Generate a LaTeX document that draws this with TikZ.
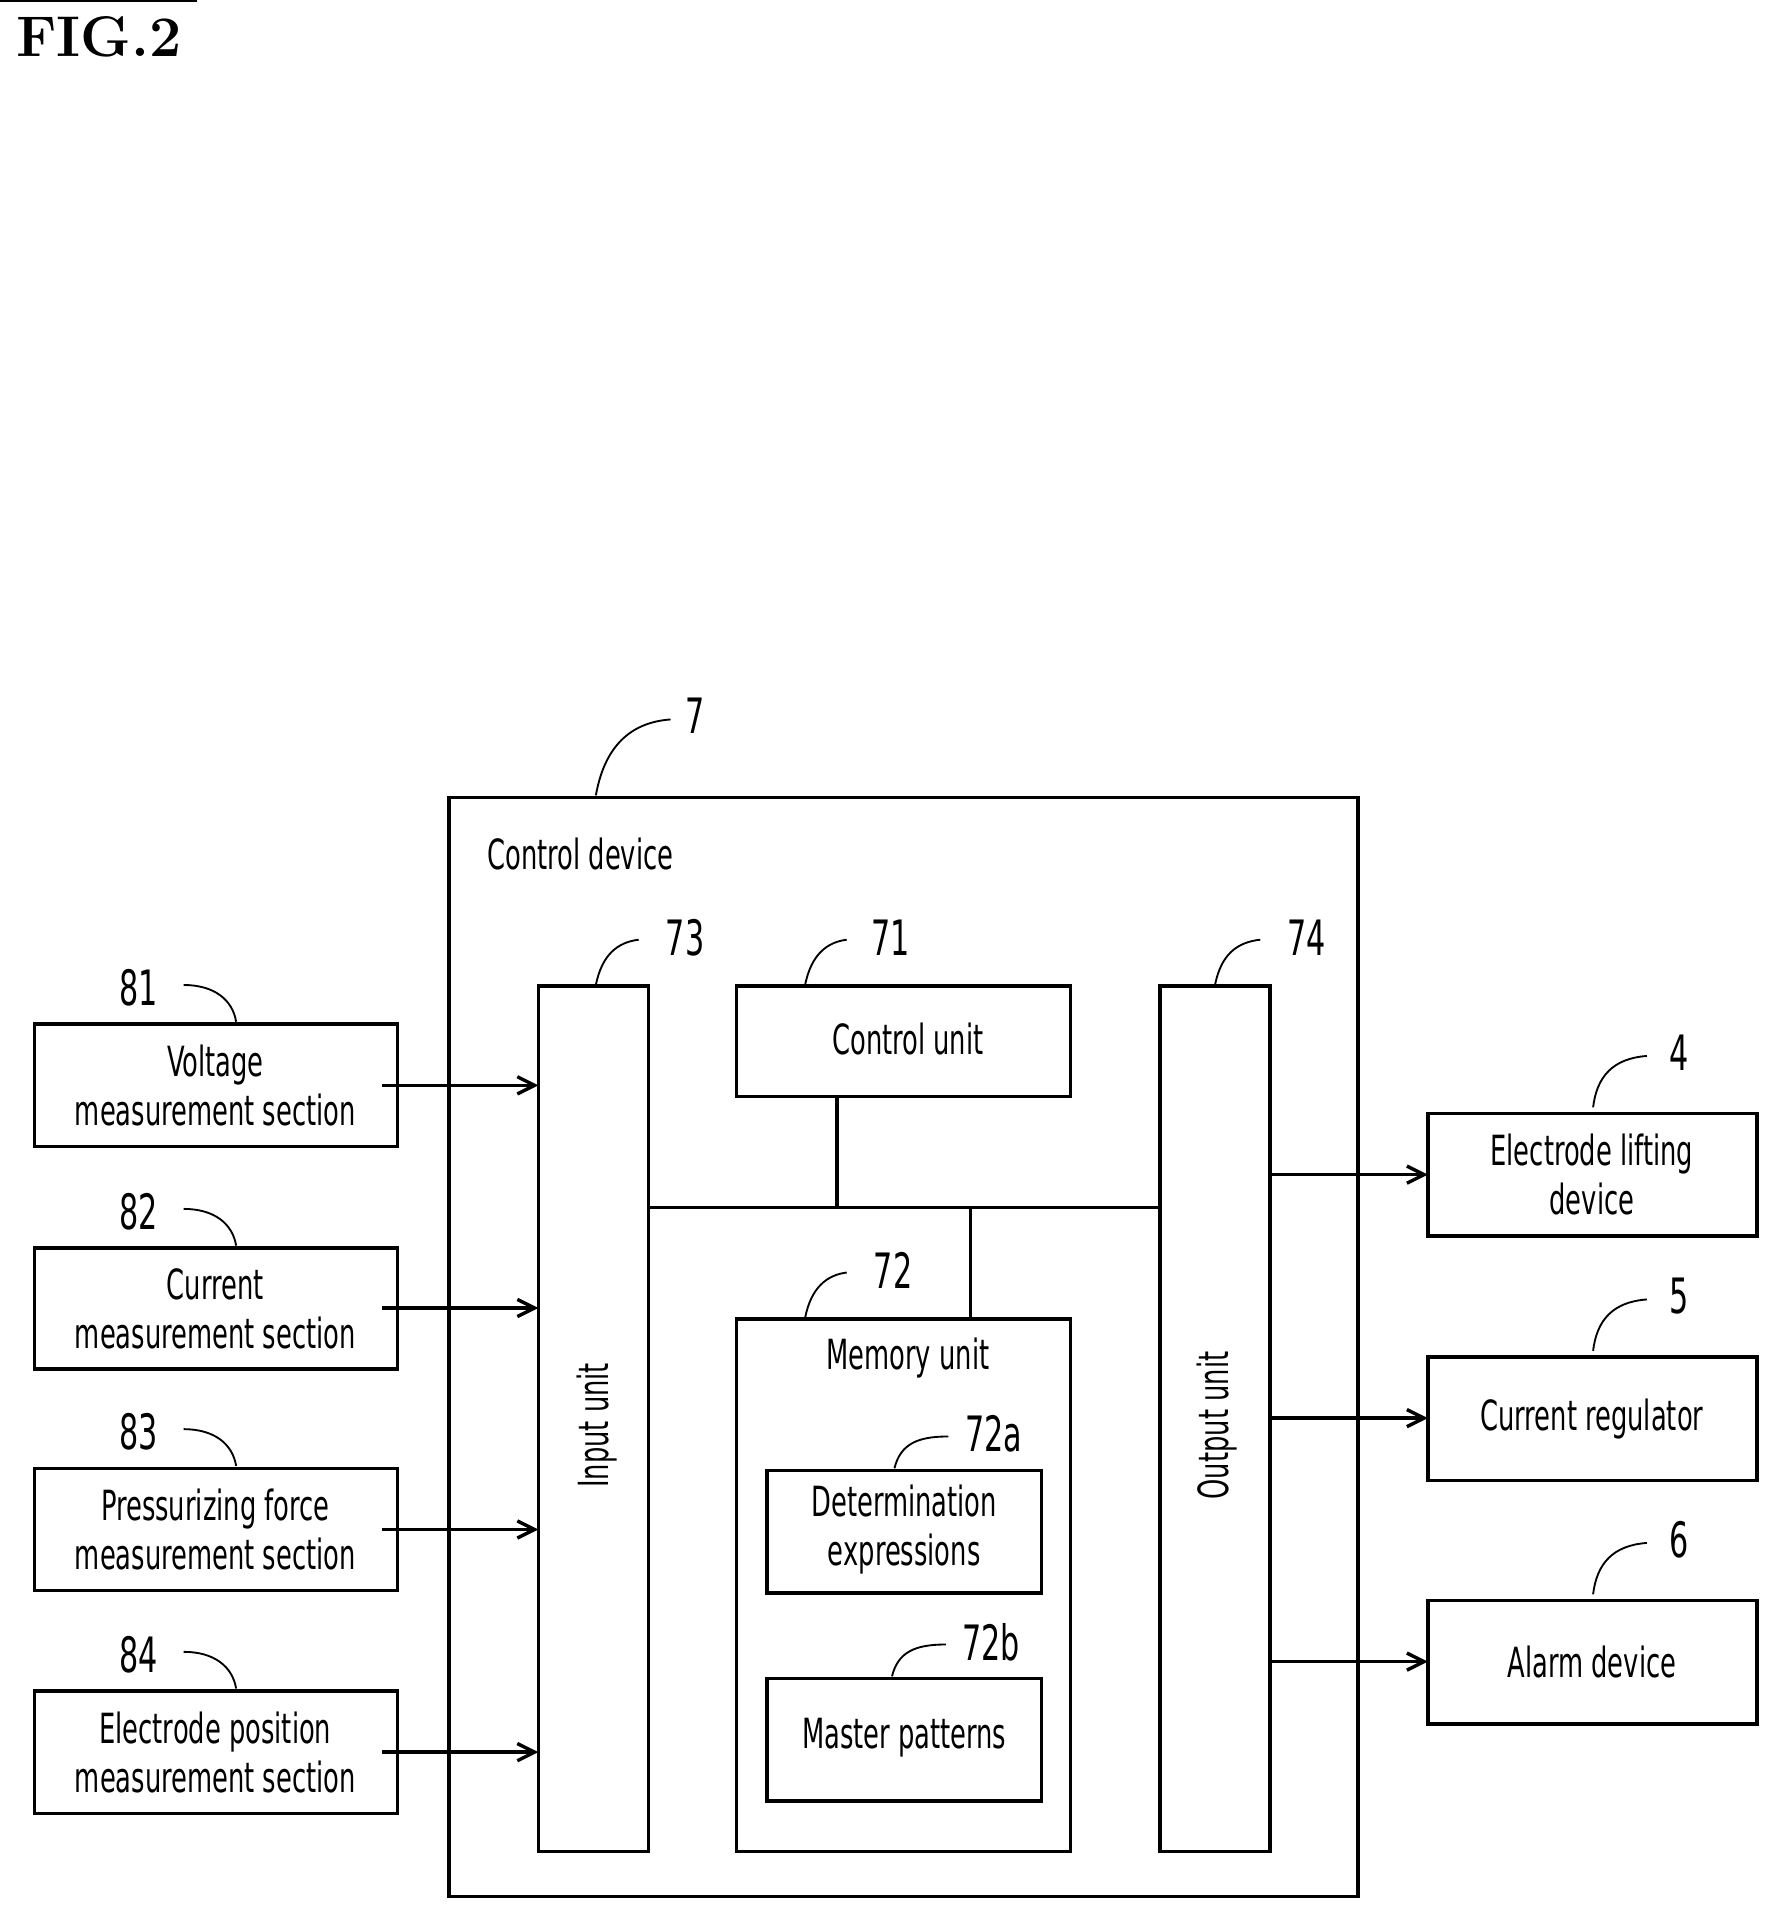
\documentclass[tikz,border=0pt]{standalone}
\usepackage{fontspec}
\setsansfont{DejaVu Sans}[FakeStretch=0.62]
\usetikzlibrary{arrows.meta}
\begin{document}
\begin{tikzpicture}[x=0.03cm,y=-0.03cm,line width=2.4pt,
 box/.style={draw,inner sep=0pt,align=center,font=\sffamily\fontsize{29}{34}\selectfont},
 lbl/.style={font=\sffamily\fontsize{34}{40}\selectfont},
 txt/.style={font=\sffamily\fontsize{29}{34}\selectfont},
 lead/.style={line width=1.3pt},
 arr/.style={-{Straight Barb[length=12pt,width=12pt,line width=2.4pt]}}]
\useasboundingbox (0,0) rectangle (1456,1570);
\node[anchor=north west,font=\bfseries\fontsize{40}{44}\selectfont] (fig) at (8,8) {FIG.2};
% control device
\draw (367,652) rectangle (1110,1550);
\coordinate (cdtop) at (487,650);
\node[txt,anchor=west] (cdl) at (393,698) {Control device};
\node[lbl] (n7) at (568,585) {7};
\draw[lead] (cdtop) .. controls (495,605) and (520,590) .. (548,588);
% input / output
\draw (440,806) rectangle (530,1513);
\node[txt,rotate=90] (inp) at (488,1165) {Input unit};
\draw (948,806) rectangle (1038,1513);
\node[txt,rotate=90] (outp) at (995,1165) {Output unit};
\node[lbl] (n73) at (560,766) {73};
\draw[lead] (487,805) .. controls (492,780) and (505,770) .. (522,768);
\node[lbl] (n74) at (1068,766) {74};
\draw[lead] (993,805) .. controls (998,780) and (1011,770) .. (1030,768);
% control unit
\node[box,minimum width=273\pgflinewidth/2.4*0.03cm/0.03cm] at (0,0) {};
\draw (602,806) rectangle (875,896);
\node[txt] (cu) at (742,849) {Control unit};
\node[lbl] (n71) at (728,766) {71};
\draw[lead] (658,805) .. controls (663,780) and (676,770) .. (692,768);
% bus
\draw (530,987) -- (948,987);
\draw (684,896) -- (684,987);
\draw (793,987) -- (793,1078);
% memory
\draw (602,1078) rectangle (875,1513);
\node[txt] (mu) at (742,1110) {Memory unit};
\node[lbl] (n72) at (730,1038) {72};
\draw[lead] (658,1077) .. controls (663,1052) and (676,1042) .. (692,1040);
\draw (627,1202) rectangle (851,1302);
\node[txt,align=center] (de) at (739,1250) {Determination\\expressions};
\node[lbl] (n72a) at (812,1172) {72a};
\draw[lead] (731,1200) .. controls (736,1180) and (750,1174) .. (775,1174);
\draw (627,1372) rectangle (851,1472);
\node[txt] (mp) at (739,1420) {Master patterns};
\node[lbl] (n72b) at (810,1342) {72b};
\draw[lead] (729,1370) .. controls (734,1350) and (748,1344) .. (773,1344);
% left boxes
\foreach \t/\yt/\ya/\n/\txt in {837/937/887/81/{Voltage\\measurement section},
  1020/1119/1069/82/{Current\\measurement section},
  1200/1300/1250/83/{Pressurizing force\\measurement section},
  1382/1482/1432/84/{Electrode position\\measurement section}}{
 \draw (28,\t) rectangle (325,\yt);
 \node[txt,align=center] at (176,{(\t+\yt)/2}) {\txt};
 \node[lbl] at (113,{\t-30}) {\n};
 \draw[lead] (150,{\t-32}) .. controls (175,{\t-32}) and (190,{\t-20}) .. (193,{\t-2});
 \draw[arr] (312,\ya) -- (440,\ya);
}
% right boxes
\foreach \t/\yt/\ya/\n/\txt in {910/1010/960/4/{Electrode lifting\\device},
  1109/1210/1159/5/{Current regulator},
  1308/1409/1358/6/{Alarm device}}{
 \draw (1167,\t) rectangle (1436,\yt);
 \node[txt,align=center] at (1301,{(\t+\yt)/2}) {\txt};
 \node[lbl] at (1372,{\t-50}) {\n};
 \draw[lead] (1302,{\t-5}) .. controls (1305,{\t-30}) and (1318,{\t-45}) .. (1346,{\t-47});
 \draw[arr] (1038,\ya) -- (1167,\ya);
}
\end{tikzpicture}
\end{document}
